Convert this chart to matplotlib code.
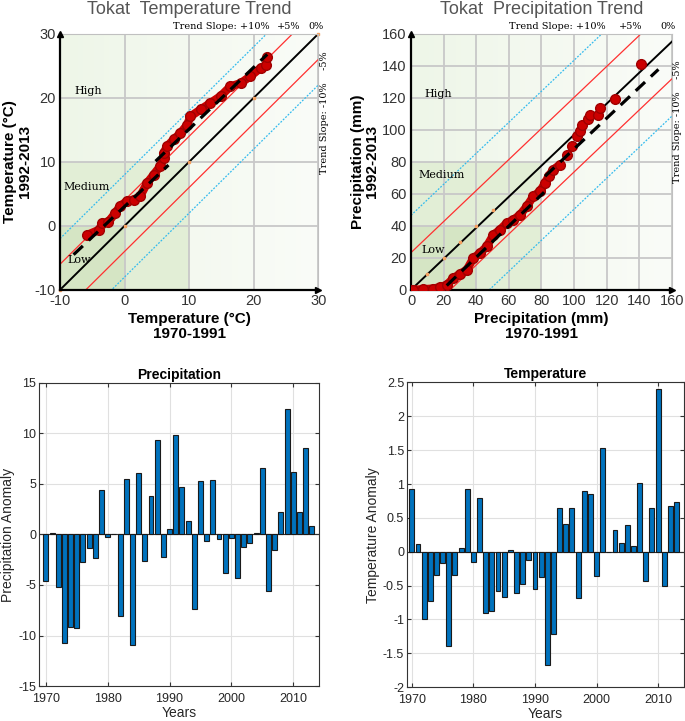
import matplotlib
matplotlib.use('Agg')
import matplotlib.pyplot as plt
import matplotlib.patches as mpatches
import numpy as np

plt.rcParams['font.family'] = ['Liberation Sans', 'DejaVu Sans']
plt.rcParams['axes.unicode_minus'] = False

# ---- anomaly bar data ----
years = np.arange(1970, 2014)
precip_anom = [-4.6, 0.1, -5.2, -10.7, -9.2, -9.3, -2.7, -1.35, -2.35, 4.4,
               -0.25, 0.0, -8.1, 5.5, -10.9, 6.1, -2.65, 3.85, 9.3, -2.2,
               0.55, 9.8, 4.7, 1.35, -7.4, 5.3, -0.6, 5.4, -0.5, -3.8,
               -0.4, -4.3, -1.2, -0.85, 0.1, 6.6, -5.6, -1.5, 2.25, 12.4,
               6.2, 2.2, 8.55, 0.8]
temp_anom = [0.93, 0.11, -1.0, -0.73, -0.34, -0.17, -1.4, -0.35, 0.05, 0.93,
             -0.15, 0.8, -0.9, -0.87, -0.58, -0.67, 0.03, -0.61, -0.48, -0.12,
             -0.55, -0.37, -1.68, -1.22, 0.65, 0.41, 0.65, -0.69, 0.89, 0.86,
             -0.36, 1.53, -0.005, 0.32, 0.13, 0.4, 0.09, 1.02, -0.43, 0.64,
             2.4, -0.51, 0.67, 0.73]

# ---- quantile (trend) data ----
temp_x = [-5.75, -3.9, -3.5, -2.5, -1.45, -0.7, 0.35, 1.4, 2.4, 3.5, 4.5, 5.5,
          6.06, 6.06, 6.6, 7.6, 8.65, 9.7, 10.2, 11.8, 13.3, 14.9, 16.4, 18.0,
          19.5, 21.1, 21.9, 22.1]
temp_y = [-1.4, -0.6, 0.4, 0.6, 2.0, 3.1, 3.85, 4.1, 4.6, 6.7, 8.0, 9.3,
          10.6, 11.4, 12.45, 13.5, 14.5, 15.8, 17.1, 18.2, 19.2, 20.3, 21.8, 22.3,
          23.4, 24.7, 25.1, 26.4]
prec_x = [0.5, 1.4, 7.6, 13.7, 17.8, 21.9, 26, 30, 34.2, 38.2, 42.3, 46.4, 50.5,
          54.6, 58.7, 62.8, 66.9, 71, 75, 79.1, 82.2, 84.3, 87.3, 91.4, 95.5,
          98.6, 101.6, 103.7, 104.7, 108.8, 109.8, 114.9, 116, 125.2, 140.9]
prec_y = [0.0, 0.0, 0.4, 0.8, 1.7, 3.1, 7.3, 10, 12.5, 19.8, 23, 27.1, 34.4,
          37.6, 41.8, 43.8, 47, 52.2, 58.5, 61.6, 66.8, 71, 75.2, 78.3, 84.6,
          89.8, 96, 99.2, 103.3, 106.5, 109.6, 109.6, 113.8, 119, 141.3]
prec_dense = 24   # points after this index stand apart in the reference

# two-part fitted trend lines (dashed)
temp_fit = [([-7.9, 6.8], [-4.5, 9.5]), ([4.8, 22.1], [10.1, 26.8])]
prec_fit = [([21.9, 81.6], [2.7, 61.0]), ([82.2, 151.7], [71.0, 137.8])]

# slope reference offsets
temp_offsets = [8, 4, 0, -4, -8]
prec_offsets = [48, 24, 0, -24, -48]
ref_colors = ['#33bbee', '#ff3030', 'black', '#ff3030', '#33bbee']

fig = plt.figure(figsize=(6.85, 7.21), dpi=100)
SERIF = 'DejaVu Serif'


def trend_panel(rect, lo, hi, step, low_hi, med_hi, xs, ys, ndense, fits, offsets, scale,
                title, xlab, ylab, labels_pos, diag_marks, slope_txt):
    ax = fig.add_axes(rect)
    ax.set_xlim(lo, hi)
    ax.set_ylim(lo, hi)
    # background zones
    grad = np.linspace(0, 1, 100).reshape(1, -1)
    cmap = matplotlib.colors.LinearSegmentedColormap.from_list('bg', ['#eef6e8', '#fafcf8'])
    ax.imshow(grad, extent=[lo, hi, lo, hi], aspect='auto', cmap=cmap, zorder=0)
    ax.add_patch(mpatches.Rectangle((lo, lo), med_hi - lo, med_hi - lo,
                                    facecolor='#e2eed6', edgecolor='none', zorder=0.5))
    ax.add_patch(mpatches.Rectangle((lo, lo), low_hi - lo, low_hi - lo,
                                    facecolor='#d5e5c4', edgecolor='none', zorder=0.6))
    ticks = np.arange(lo, hi + 0.1, step)
    for t in ticks:
        ax.axvline(t, color='#c8c8c8', lw=1.3, zorder=1)
        ax.axhline(t, color='#c8c8c8', lw=1.3, zorder=1)
    # reference slope lines
    xx = np.array([lo, hi])
    for off, c in zip(offsets, ref_colors):
        if off == 0:
            ax.plot(xx, lo + scale * (xx - lo), color=c, lw=1.4, zorder=2)
        else:
            ax.plot(xx, lo + scale * (xx - lo + off), color=c, lw=0.9,
                    ls=(0, (1.5, 1.2)) if c == '#33bbee' else '-', zorder=2)
    ax.plot(diag_marks, diag_marks, 's', color='#f4a060', ms=2, zorder=2.5, clip_on=False)
    ax.plot(xs[:ndense], ys[:ndense], color='#cc0000', lw=6, zorder=3,
            solid_capstyle='round', solid_joinstyle='round')
    ax.plot(xs, ys, 'o', color='#cc0000', mec='#a00000', ms=7, zorder=3.5)
    for fx, fy in fits:
        ax.plot(fx, fy, color='black', lw=2.3, ls=(0, (4, 2.5)), zorder=4)
    for name, (px, py) in labels_pos.items():
        ax.text(px, py, name, family=SERIF, fontsize=8, ha='center',
                va='center', zorder=5)
    for s in ['top', 'right']:
        ax.spines[s].set_color('#c0c0c0')
    for s in ['left', 'bottom']:
        ax.spines[s].set_color('black')
        ax.spines[s].set_linewidth(1.6)
    ax.plot([lo], [hi], '^', color='black', ms=5, clip_on=False, zorder=6)
    ax.plot([hi], [lo], '>', color='black', ms=5, clip_on=False, zorder=6)
    ax.set_xticks(ticks)
    ax.set_yticks(ticks)
    ax.tick_params(length=0, labelsize=10.5, labelcolor='#333333', pad=3)
    ax.set_xlabel(xlab, fontsize=11, fontweight='bold', labelpad=3, linespacing=1.05)
    ax.set_ylabel(ylab, fontsize=11, fontweight='bold', labelpad=2, linespacing=1.05)
    ax.set_title(title, fontsize=13, color='#555555', pad=14)
    (x10, x5, x0, xv, yv) = slope_txt
    kw = dict(family=SERIF, fontsize=7, transform=ax.transAxes, va='bottom')
    ax.text(x10, 1.01, 'Trend Slope: +10%', ha='right', **kw)
    ax.text(x5, 1.01, '+5%', ha='center', **kw)
    ax.text(x0, 1.01, '0%', ha='center', **kw)
    ax.text(xv, yv, 'Trend Slope: -10%    -5%', family=SERIF, fontsize=7,
            transform=ax.transAxes, rotation=90, ha='center', va='top')
    return ax


trend_panel([0.0876, 0.598, 0.377, 0.355], -10, 30, 10, 0, 10, temp_x, temp_y, len(temp_x),
            temp_fit, temp_offsets, 1.0, 'Tokat  Temperature Trend', 'Temperature (°C)\n1970-1991',
            'Temperature (°C)\n1992-2013',
            {'High': (-5.7, 21.0), 'Medium': (-5.9, 6.0), 'Low': (-7.1, -5.3)},
            [-10, 0, 10, 20, 30], (0.81, 0.885, 0.99, 1.025, 0.93))

trend_panel([0.6, 0.598, 0.381, 0.355], 0, 160, 20, 40, 80, prec_x, prec_y, prec_dense,
            prec_fit, prec_offsets, 0.97, 'Tokat  Precipitation Trend', 'Precipitation (mm)\n1970-1991',
            'Precipitation (mm)\n1992-2013',
            {'High': (16.8, 122.5), 'Medium': (18.8, 71.6), 'Low': (13.3, 24.6)},
            [10, 20, 30, 40, 50], (0.745, 0.84, 0.985, 1.022, 0.895))


def fmt(v):
    return ('%g' % v)


def bar_panel(rect, vals, xlim, ylim, yticks, title, ylab):
    ax = fig.add_axes(rect)
    ax.bar(years, vals, width=0.8, color='#0072BD', edgecolor='#1a1a1a', lw=0.8, zorder=3)
    ax.axhline(0, color='#333333', lw=0.8, zorder=2)
    ax.set_xlim(*xlim)
    ax.set_ylim(*ylim)
    ax.set_xticks([1970, 1980, 1990, 2000, 2010])
    ax.set_yticks(yticks)
    ax.set_yticklabels([fmt(v) for v in yticks])
    ax.grid(True, color='#e0e0e0', lw=0.8, zorder=0)
    ax.tick_params(direction='in', top=True, right=True, length=3, labelsize=9,
                   labelcolor='#262626', color='#333333', pad=2)
    ax.tick_params(axis='x', pad=5)
    for s in ax.spines.values():
        s.set_color('#333333')
        s.set_linewidth(0.8)
    ax.set_title(title, fontsize=10, fontweight='bold', pad=3)
    ax.set_xlabel('Years', fontsize=10, color='#262626', labelpad=1)
    ax.set_ylabel(ylab, fontsize=10, color='#262626', labelpad=2)
    return ax


bar_panel([0.057, 0.0485, 0.409, 0.4205], precip_anom, (1968.9, 2014.2), (-15, 15),
          np.arange(-15, 16, 5), 'Precipitation', 'Precipitation Anomaly')
bar_panel([0.594, 0.047, 0.4045, 0.4225], temp_anom, (1969.2, 2014.2), (-2, 2.5),
          np.arange(-2, 2.51, 0.5), 'Temperature', 'Temperature Anomaly')

fig.savefig('out.png', dpi=100)
